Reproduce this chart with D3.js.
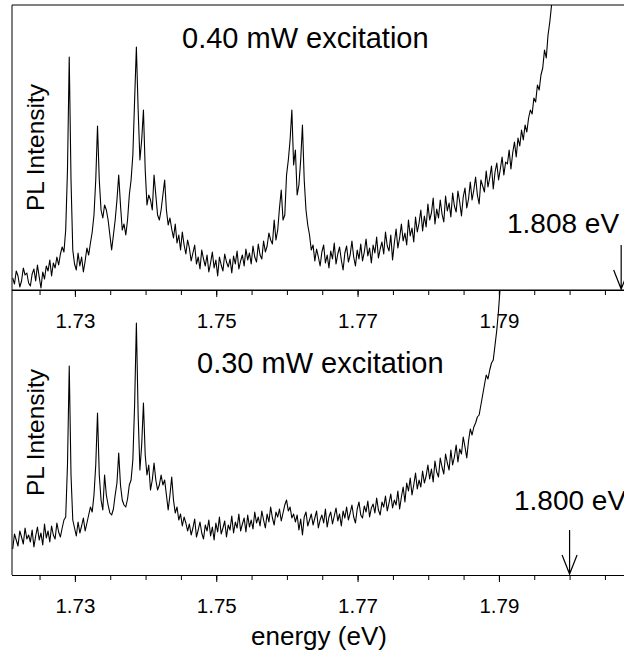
<!DOCTYPE html>
<html>
<head>
<meta charset="utf-8">
<script src="https://cdn.jsdelivr.net/npm/d3@7"></script>
<style>
body{margin:0;background:#fff;}
text{font-family:"Liberation Sans",Arial,sans-serif;fill:#000;}
</style>
</head>
<body>
<svg id="chart"></svg>
<script>
// spectrometer channel grid (eV)
var eStart = 1.7212;
var eStep = 0.00025;

// PL intensity (a.u.), one value per channel
var topIntensity = [
  12,6,19,14,3,9,22,15,17,7,4,16,21,9,25,13,2,18,11,24,
  19,30,14,27,22,33,25,36,43,38,
  60,120,233,110,40,
  26,20,37,24,33,18,29,42,35,47,58,
  75,110,164,110,80,72,85,80,70,55,
  40,55,70,90,115,85,60,66,55,70,
  95,110,135,190,243,180,130,150,180,120,
  85,95,90,80,115,95,75,70,80,95,
  110,80,65,72,
  61,52,66,47,55,40,58,45,36,50,
  42,29,37,45,26,33,21,40,31,24,
  35,18,27,38,22,30,14,33,25,19,
  36,28,23,31,17,34,26,39,21,29,
  35,24,41,30,37,26,44,33,28,46,
  35,31,49,38,44,57,50,46,
  70,50,60,82,100,70,75,115,130,150,
  180,125,140,95,105,130,165,110,80,65,
  55,40,45,
  29,41,33,24,38,45,27,35,22,
  39,31,47,26,36,43,30,20,37,44,
  28,35,49,33,24,40,31,46,29,38,
  51,34,42,27,45,37,53,32,41,48,
  36,58,44,39,55,30,47,61,42,52,
  66,49,57,45,70,54,62,48,73,58,
  67,80,59,74,63,86,70,77,92,66,
  81,72,90,76,68,94,79,87,73,97,
  84,78,99,88,74,93,102,82,91,108,
  90,100,113,95,86,110,104,98,119,103,
  112,124,101,118,127,110,121,133,115,128,
  126,140,121,137,148,133,152,144,160,150,
  165,158,172,180,176,192,188,205,200,215,
  222,240,232,255,268,285,300,315,330];

var bottomIntensity = [
  26,41,35,29,44,38,31,47,36,40,
  33,45,28,39,48,35,42,30,51,37,
  44,33,49,40,36,52,43,38,47,55,
  58,110,209,100,55,
  47,39,53,42,49,57,44,52,60,68,63,
  80,110,162,100,
  75,65,100,80,70,62,60,66,80,92,
  122,90,75,70,68,76,90,95,115,170,
  252,160,105,130,172,120,100,110,85,95,
  112,95,85,90,100,90,95,80,65,80,
  98,75,62,68,55,61,49,58,52,44,
  51,40,47,56,38,45,53,42,36,50,
  44,55,39,48,35,52,43,58,41,47,
  54,38,50,45,59,42,53,47,61,44,
  51,57,43,60,48,55,46,63,52,58,
  49,64,55,47,61,53,68,57,50,63,
  58,66,54,62,70,75,64,68,57,61,
  53,60,45,56,40,58,63,49,55,61,
  50,57,64,47,55,60,52,66,48,58,
  63,51,59,67,54,61,49,64,57,68,
  55,62,70,58,52,66,73,60,57,69,
  63,74,58,67,71,62,77,65,60,73,
  68,79,64,72,81,67,75,70,84,66,
  78,88,73,92,84,97,80,90,102,86,
  95,88,104,92,99,110,96,106,93,114,
  103,98,117,108,101,121,112,105,125,110,
  118,130,113,126,121,138,128,117,134,146,
  140,148,152,158,160,170,180,190,200,196,
  205,212,215,230,245,265,290,305,320];

var majorTicks = [1.73,1.75,1.77,1.79];
var minorTicks = [1.725,1.73,1.735,1.74,1.745,1.75,1.755,1.76,1.765,1.77,1.775,1.78,1.785,1.79,1.795,1.80,1.805];
var panelTitles = ["0.40 mW excitation","0.30 mW excitation"];
var edgeLabels = ["1.808 eV","1.800 eV"];
var edgeEnergies = [1.8073,1.800];

var width = 624;
var height = 661;
var left = 12;
var panels = [{top:5,bottom:290,data:topIntensity},{top:290,bottom:575,data:bottomIntensity}];

var svg = d3.select("#chart")
  .attr("width",width)
  .attr("height",height);

var x = d3.scaleLinear().domain([1.7211,1.8077]).range([left,624]);

panels.forEach(function(p,k){
  var y = d3.scaleLinear().domain([0,285]).range([p.bottom,p.top]);

  var pts = p.data.map(function(v,i){return [eStart+i*eStep,v];});

  svg.append("clipPath").attr("id","clip"+k)
    .append("rect")
    .attr("x",left).attr("y",p.top)
    .attr("width",width-left+10).attr("height",p.bottom-p.top);

  var line = d3.line()
    .x(function(d){return x(d[0]);})
    .y(function(d){return y(d[1]);});

  svg.append("path")
    .datum(pts)
    .attr("clip-path","url(#clip"+k+")")
    .attr("d",line)
    .attr("fill","none")
    .attr("stroke","#000")
    .attr("stroke-width",1.1)
    .attr("stroke-linejoin","round");

  // frame
  svg.append("line")
    .attr("x1",left).attr("x2",width+5)
    .attr("y1",p.top).attr("y2",p.top)
    .attr("stroke","#000");
  svg.append("line")
    .attr("x1",left).attr("x2",left)
    .attr("y1",p.top).attr("y2",p.bottom)
    .attr("stroke","#000");

  // ticks
  var minorAxis = d3.axisBottom(x).tickValues(minorTicks).tickSize(5).tickFormat("");
  var g1 = svg.append("g").attr("transform","translate(0,"+p.bottom+")").call(minorAxis);
  g1.select(".domain").remove();

  var majorAxis = d3.axisBottom(x).tickValues(majorTicks).tickSize(7).tickFormat(d3.format(".2f"));
  var g2 = svg.append("g").attr("transform","translate(0,"+p.bottom+")").call(majorAxis);
  g2.select(".domain").attr("d","M"+left+",0.5H"+(width+5)).attr("stroke","#000");
  g2.selectAll("text")
    .attr("y",38).attr("dy",0)
    .style("font-size","20.5px")
    .style("font-family","'Liberation Sans',Arial,sans-serif")
    .attr("fill","#000");

  // labels
  svg.append("text")
    .text("PL Intensity")
    .attr("transform","translate(44,"+((p.top+p.bottom)/2)+") rotate(-90)")
    .attr("text-anchor","middle")
    .style("font-size","24.5px");

  svg.append("text")
    .text(panelTitles[k])
    .attr("x",k===0?182:197)
    .attr("y",k===0?47.5:373)
    .style("font-size","29px");

  svg.append("text")
    .text(edgeLabels[k])
    .attr("x",k===0?507:514)
    .attr("y",k===0?233:510)
    .style("font-size","28px");

  // arrow marking the band edge
  var ax = x(edgeEnergies[k]);
  var tip = p.bottom-1;
  svg.append("path")
    .attr("d","M"+ax+","+(tip-44)+"V"+tip+"M"+(ax-7.5)+","+(tip-19)+"L"+ax+","+tip+"L"+(ax+7.5)+","+(tip-19))
    .attr("fill","none")
    .attr("stroke","#000")
    .attr("stroke-width",1.2);
});

svg.append("text")
  .text("energy (eV)")
  .attr("x",319)
  .attr("y",645)
  .attr("text-anchor","middle")
  .style("font-size","26px");
</script>
</body>
</html>
